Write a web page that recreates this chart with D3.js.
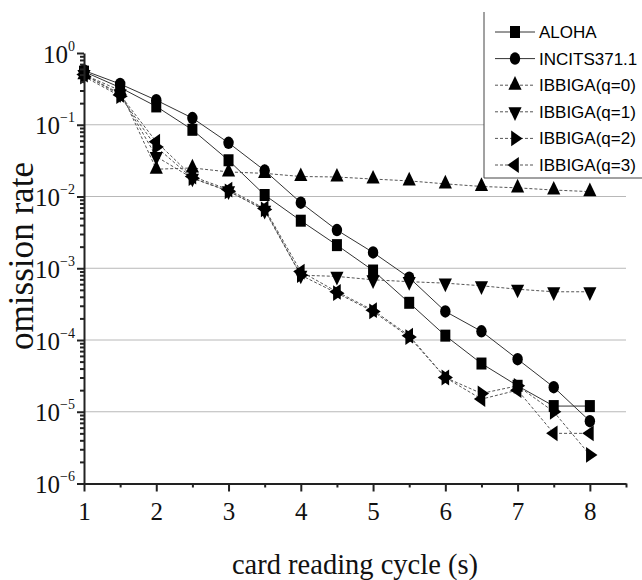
<!DOCTYPE html>
<html><head><meta charset="utf-8">
<script src="https://cdn.jsdelivr.net/npm/d3@7"></script>
<style>body{margin:0;background:#fff}svg{display:block}</style>
</head><body><svg id="c" width="642" height="580"></svg>
<script>
const cycles = [1,1.5,2,2.5,3,3.5,4,4.5,5,5.5,6,6.5,7,7.5,8];
const aloha   = [0.55,0.33,0.18,0.085,0.032,0.0105,0.0046,0.0021,0.00093,0.00033,0.000115,4.7e-5,2.3e-5,1.2e-5,1.2e-5];
const incits  = [0.57,0.37,0.22,0.124,0.056,0.023,0.0082,0.0034,0.00166,0.00074,0.00025,0.000132,5.4e-5,2.2e-5,7.4e-6];
const ibbiga0 = [0.5,0.3,0.024,0.025,0.022,0.021,0.019,0.0187,0.0175,0.0165,0.015,0.0138,0.0132,0.0123,0.0117];
const ibbiga1 = [0.5,0.27,0.036,0.018,0.012,0.0064,0.0008,0.00077,0.00069,0.00065,0.00062,0.00057,0.00051,0.00047,0.00047];
const ibbiga2 = [0.47,0.25,0.049,0.018,0.0118,0.0066,0.0008,0.00045,0.00025,0.00011,3e-5,1.8e-5,2.3e-5,1.0e-5,2.5e-6];
const ibbiga3 = [0.5,0.26,0.058,0.019,0.0125,0.0068,0.0009,0.00047,0.00026,0.000115,3e-5,1.5e-5,2.0e-5,5e-6,5e-6];
const seriesNames = ["ALOHA","INCITS371.1","IBBIGA(q=0)","IBBIGA(q=1)","IBBIGA(q=2)","IBBIGA(q=3)"];
const xTicks = [1,2,3,4,5,6,7,8];
const xMinor = [1.5,2.5,3.5,4.5,5.5,6.5,7.5,8.5];
const yExps = [0,-1,-2,-3,-4,-5,-6];
const xTitle = "card reading cycle (s)";
const yTitle = "omission rate";

const allSeries = [aloha,incits,ibbiga0,ibbiga1,ibbiga2,ibbiga3];
const styles = [
  {sym:d3.symbolSquare,size:100,rot:0,dash:null},
  {sym:d3.symbolCircle,size:85,rot:0,dash:null},
  {sym:d3.symbolTriangle,size:75,rot:0,dash:"3,2"},
  {sym:d3.symbolTriangle,size:75,rot:180,dash:"3,2"},
  {sym:d3.symbolTriangle,size:75,rot:90,dash:"3,2"},
  {sym:d3.symbolTriangle,size:75,rot:-90,dash:"3,2"}
];

const svg = d3.select("#c");
const x = d3.scaleLinear().domain([1,8.5]).range([84,626]);
const y = d3.scaleLog().domain([1,1e-6]).range([53,483.5]);

// gridlines
svg.append("g").selectAll("line").data(yExps.filter(e=>e<0&&e>-6)).join("line")
  .attr("x1",x(1)).attr("x2",x(8.5))
  .attr("y1",e=>y(Math.pow(10,e))).attr("y2",e=>y(Math.pow(10,e)))
  .attr("stroke","#b8b8b8").attr("stroke-width",1);

// lines
const line = d3.line().x((d,i)=>x(cycles[i])).y(d=>y(d));
allSeries.forEach((s,k)=>{
  svg.append("path").attr("d",line(s)).attr("fill","none")
    .attr("stroke", styles[k].dash ? "#555" : "#333").attr("stroke-width",1)
    .attr("stroke-dasharray",styles[k].dash);
});
// markers
function marker(g,k,cx,cy){
  const st=styles[k];
  g.append("path").attr("d",d3.symbol().type(st.sym).size(st.size)())
   .attr("transform",`translate(${cx},${cy}) scale(1,1.2) rotate(${st.rot})`)
   .attr("fill","#000");
}
allSeries.forEach((s,k)=>{
  const g=svg.append("g");
  s.forEach((v,i)=>marker(g,k,x(cycles[i]),y(v)));
});

// axes
const axStyle = g=>{g.selectAll(".domain").attr("stroke","#222").attr("stroke-width",2);
  g.selectAll(".tick line").attr("stroke","#222").attr("stroke-width",2);};
const gx = svg.append("g").attr("transform",`translate(0,${y(1e-6)})`)
  .call(d3.axisBottom(x).tickValues(xTicks).tickSize(8).tickSizeOuter(0).tickFormat(d3.format("d")))
  .call(axStyle);
gx.selectAll("text").attr("dy",null).attr("y",36).attr("font-family","Liberation Serif")
  .attr("font-size",25).attr("fill","#111");
svg.append("g").attr("transform",`translate(0,${y(1e-6)})`)
  .call(d3.axisBottom(x).tickValues(xMinor).tickSize(4).tickSizeOuter(0).tickFormat(""))
  .call(axStyle).select(".domain").remove();

const yMinorVals=[];
for(let e=-6;e<0;e++) for(let m=2;m<=9;m++) yMinorVals.push(m*Math.pow(10,e));
const gy = svg.append("g").attr("transform",`translate(${x(1)},0)`)
  .call(d3.axisLeft(y).tickValues(yExps.map(e=>Math.pow(10,e))).tickSize(7).tickSizeOuter(0).tickFormat(""))
  .call(axStyle);
svg.append("g").attr("transform",`translate(${x(1)},0)`)
  .call(d3.axisLeft(y).tickValues(yMinorVals).tickSize(4).tickSizeOuter(0).tickFormat(""))
  .call(axStyle).select(".domain").remove();
gy.selectAll(".tick").each(function(d){
  const e=Math.round(Math.log10(d));
  const t=d3.select(this).append("text").attr("x",-9).attr("y",9)
    .attr("text-anchor","end").attr("font-family","Liberation Serif").attr("font-size",25).attr("fill","#111");
  t.append("tspan").text("10");
  t.append("tspan").attr("font-size",14).attr("dy",-12).text(e===0?"0":"\u2212"+(-e));
});

// titles
svg.append("text").attr("x",355).attr("y",574).attr("text-anchor","middle")
  .attr("font-family","Liberation Serif").attr("font-size",28.5).attr("fill","#111").text(xTitle);
svg.append("text").attr("transform","translate(33,256) rotate(-90)").attr("text-anchor","middle")
  .attr("font-family","Liberation Serif").attr("font-size",36).attr("textLength",188)
  .attr("lengthAdjust","spacingAndGlyphs").attr("fill","#111").text(yTitle);

// legend
const lg = svg.append("g");
lg.append("rect").attr("x",484).attr("y",12).attr("width",160).attr("height",166).attr("fill","#fff");
lg.append("line").attr("x1",484).attr("x2",484).attr("y1",12).attr("y2",178).attr("stroke","#444");
lg.append("line").attr("x1",484).attr("x2",642).attr("y1",178).attr("y2",178).attr("stroke","#444");
seriesNames.forEach((n,k)=>{
  const cy = 32 + k*26.6;
  lg.append("line").attr("x1",495).attr("x2",535).attr("y1",cy).attr("y2",cy)
    .attr("stroke",styles[k].dash?"#555":"#333").attr("stroke-dasharray",styles[k].dash);
  marker(lg,k,515,cy);
  lg.append("text").attr("x",539).attr("y",cy+6).attr("font-family","Liberation Sans")
    .attr("font-size",17).attr("fill","#000").text(n);
});
</script></body></html>
